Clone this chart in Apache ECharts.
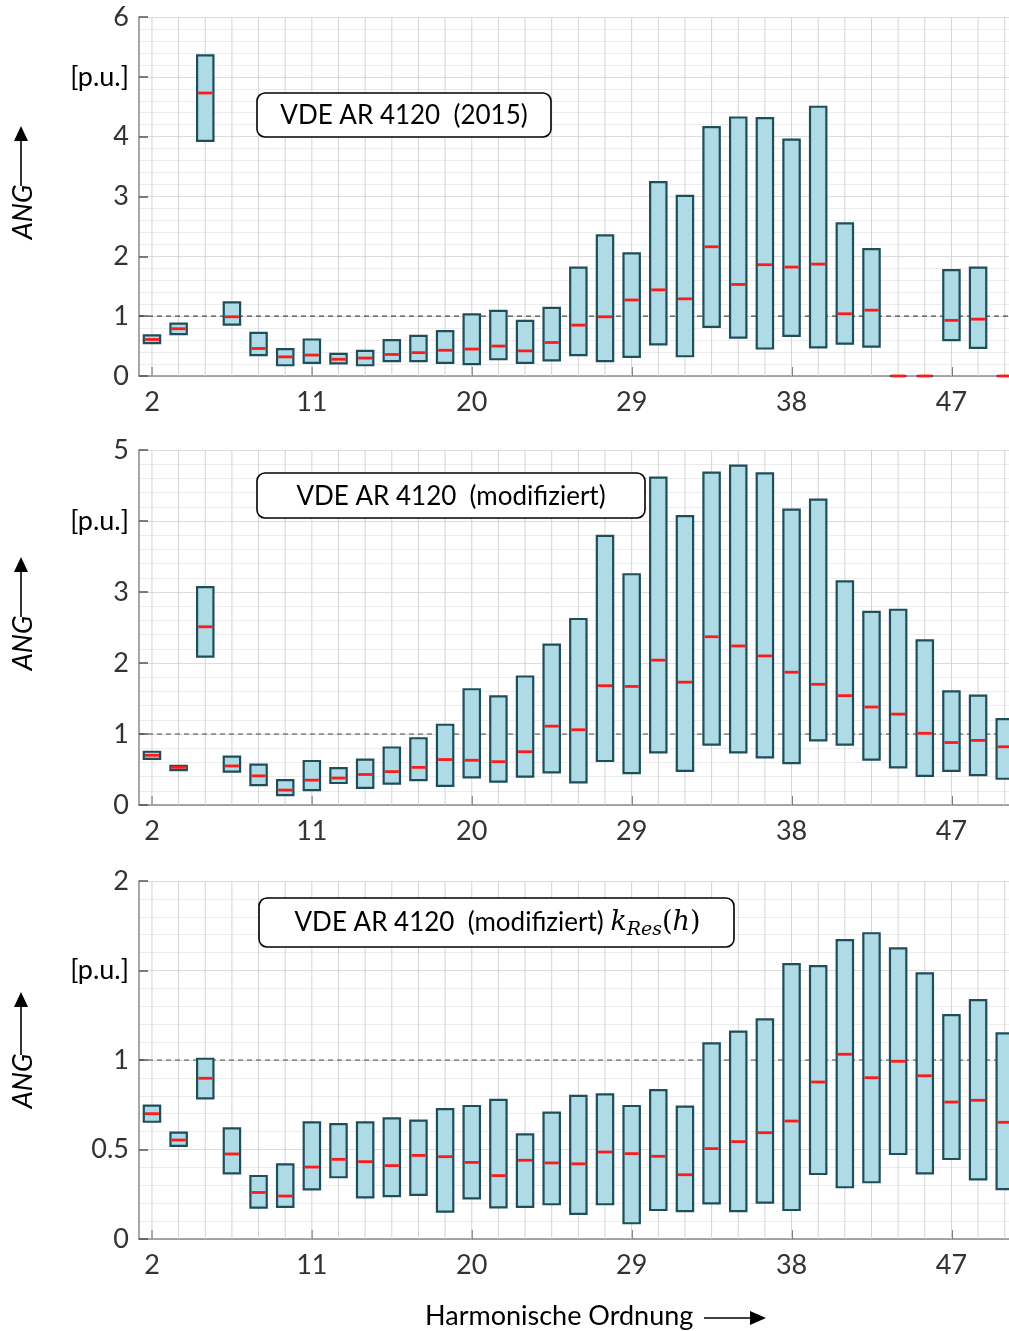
<!DOCTYPE html>
<html><head><meta charset="utf-8">
<script src="https://cdn.jsdelivr.net/npm/echarts@6/dist/echarts.min.js"></script>
<style>html,body{margin:0;padding:0;background:#fff}#c{width:1009px;height:1331px}</style>
</head><body><div id="c"></div>
<script>
// Harmonic order positions (categories along x)
const positions = [2,3.5,5,6.5,8,9.5,11,12.5,14,15.5,17,18.5,20,21.5,23,24.5,26,27.5,29,30.5,32,33.5,35,36.5,38,39.5,41,42.5,44,45.5,47,48.5,50];
const xTickValues = [2,11,20,29,38,47];

// Panel 1: VDE AR 4120 (2015)
const min2015 = [0.55,0.70,3.93,0.86,0.35,0.18,0.22,0.21,0.18,0.25,0.25,0.22,0.20,0.28,0.22,0.26,0.35,0.25,0.32,0.53,0.33,0.82,0.64,0.46,0.67,0.48,0.54,0.49,0,0,0.60,0.47,0];
const max2015 = [0.68,0.875,5.36,1.23,0.72,0.45,0.61,0.37,0.42,0.60,0.67,0.75,1.03,1.09,0.92,1.14,1.81,2.35,2.05,3.24,3.01,4.16,4.32,4.31,3.95,4.50,2.55,2.12,0,0,1.77,1.81,0];
const med2015 = [0.61,0.79,4.73,0.99,0.46,0.32,0.35,0.28,0.30,0.36,0.39,0.43,0.45,0.50,0.42,0.56,0.85,0.99,1.27,1.44,1.29,2.16,1.53,1.86,1.82,1.87,1.04,1.10,0,0,0.93,0.95,0];

// Panel 2: VDE AR 4120 (modifiziert)
const minMod = [0.65,0.49,2.09,0.47,0.28,0.14,0.21,0.31,0.24,0.30,0.35,0.27,0.39,0.33,0.40,0.46,0.32,0.62,0.45,0.74,0.48,0.85,0.74,0.67,0.59,0.91,0.85,0.64,0.53,0.41,0.48,0.42,0.37];
const maxMod = [0.75,0.55,3.07,0.68,0.57,0.35,0.62,0.52,0.64,0.81,0.94,1.13,1.63,1.53,1.81,2.26,2.62,3.79,3.25,4.61,4.07,4.68,4.78,4.67,4.16,4.30,3.15,2.72,2.75,2.32,1.60,1.54,1.21];
const medMod = [0.70,0.53,2.51,0.55,0.41,0.21,0.35,0.38,0.43,0.47,0.53,0.64,0.63,0.61,0.75,1.11,1.06,1.68,1.67,2.04,1.73,2.37,2.24,2.10,1.87,1.70,1.54,1.38,1.28,1.01,0.88,0.91,0.82];

// Panel 3: VDE AR 4120 (modifiziert) kRes(h)
const minRes = [0.655,0.52,0.786,0.367,0.175,0.18,0.277,0.345,0.233,0.24,0.246,0.153,0.227,0.177,0.18,0.194,0.14,0.194,0.088,0.162,0.156,0.199,0.156,0.203,0.162,0.363,0.289,0.317,0.475,0.367,0.447,0.333,0.279];
const maxRes = [0.745,0.594,1.007,0.618,0.352,0.417,0.652,0.642,0.652,0.674,0.661,0.726,0.743,0.777,0.585,0.706,0.80,0.808,0.743,0.832,0.739,1.093,1.158,1.227,1.536,1.525,1.670,1.708,1.624,1.484,1.251,1.335,1.149];
const medRes = [0.70,0.553,0.898,0.475,0.26,0.24,0.402,0.445,0.432,0.41,0.467,0.46,0.428,0.354,0.44,0.425,0.42,0.486,0.477,0.462,0.359,0.505,0.544,0.594,0.659,0.877,1.032,0.901,0.993,0.912,0.765,0.775,0.652];

// Axis settings per panel
const yMaxes = [6, 5, 2];
const yIntervals = [1, 1, 0.5];
const puValues = [5, 4, 1.5];
const refLevel = [1, 1, 1];
const xMin = 1.27, xMax = 50.24;
const panelTitles = ['VDE AR 4120  (2015)', 'VDE AR 4120  (modifiziert)', null];

const FONT = 'Lato';
const gridTops = [17, 450, 881];
const gridHeights = [359, 355, 358];
const boxWidth = 0.92;

const mins = [min2015, minMod, minRes];
const maxs = [max2015, maxMod, maxRes];
const meds = [med2015, medMod, medRes];

const grids = [], xAxes = [], yAxes = [], series = [];
for (let i = 0; i < 3; i++) {
  grids.push({left: 139, right: 0, top: gridTops[i], height: gridHeights[i]});
  xAxes.push({
    type: 'value', gridIndex: i, min: xMin, max: xMax,
    axisLine: {show: true, lineStyle: {color: '#8a8a8a', width: 1.5}},
    axisTick: {show: true, inside: true, length: 9, customValues: xTickValues, lineStyle: {color: '#555', width: 1.5}},
    axisLabel: {customValues: xTickValues, fontSize: 27, fontFamily: FONT, color: '#333', margin: 13},
    splitLine: {show: false}
  });
  const pu = puValues[i];
  yAxes.push({
    type: 'value', gridIndex: i, min: 0, max: yMaxes[i], interval: yIntervals[i],
    axisLine: {show: true, lineStyle: {color: '#8a8a8a', width: 1.5}},
    axisTick: {show: true, inside: true, length: 9, lineStyle: {color: '#555', width: 1.5}},
    axisLabel: {
      fontSize: 27, fontFamily: FONT, margin: 10,
      color: function (v) { return Math.abs(v - pu) < 1e-9 ? '#000' : '#333'; },
      formatter: function (v) { return Math.abs(v - pu) < 1e-9 ? '[p.u.]' : String(v); }
    },
    splitLine: {show: true, lineStyle: {color: '#dcdcdc', width: 1}},
    minorTick: {show: false, splitNumber: 5},
    minorSplitLine: {show: true, lineStyle: {color: '#ececec', width: 1}}
  });
  const yTop = yMaxes[i];
  // vertical grid lines at every harmonic position
  series.push({
    type: 'custom', xAxisIndex: i, yAxisIndex: i, z: 1, silent: true,
    data: positions.map(x => [x]),
    renderItem: function (params, api) {
      const x = api.value(0);
      const a = api.coord([x, 0]);
      const b = api.coord([x, yTop]);
      return {type: 'line', shape: {x1: a[0], y1: a[1], x2: b[0], y2: b[1]}, style: {stroke: '#d4d4d4', lineWidth: 1}};
    }
  });
  // reference level dashed line
  series.push({
    type: 'line', xAxisIndex: i, yAxisIndex: i, z: 2, silent: true, symbol: 'none',
    data: [[xMin, refLevel[i]], [xMax, refLevel[i]]],
    lineStyle: {color: '#4a4a4a', width: 1.2, type: [5, 4]}
  });
  // boxes
  const mn = mins[i], mx = maxs[i], md = meds[i];
  series.push({
    type: 'custom', xAxisIndex: i, yAxisIndex: i, z: 3, clip: false,
    data: positions.map((x, k) => [x, mn[k], mx[k], md[k]]),
    encode: {x: 0, y: [1, 2, 3]},
    renderItem: function (params, api) {
      const x = api.value(0), lo = api.value(1), hi = api.value(2), me = api.value(3);
      const pLo = api.coord([x, lo]), pHi = api.coord([x, hi]), pMd = api.coord([x, me]);
      const w = api.size([boxWidth, 0])[0];
      return {type: 'group', children: [
        {type: 'rect', shape: {x: pLo[0] - w / 2, y: pHi[1], width: w, height: pLo[1] - pHi[1]},
         style: {fill: '#aedbe6', stroke: '#1e4e5a', lineWidth: 2.2}},
        {type: 'line', shape: {x1: pMd[0] - w / 2 + 1.2, y1: pMd[1], x2: pMd[0] + w / 2 - 1.2, y2: pMd[1]},
         style: {stroke: '#ff1a1a', lineWidth: 2.8}}
      ]};
    }
  });
}

// Decorations
const graphics = [];
const angCenters = [212, 643, 1081];
const angTips = [126, 557, 992];
for (let i = 0; i < 3; i++) {
  const c = angCenters[i], t = angTips[i];
  graphics.push({type: 'text', x: 23, y: c, rotation: Math.PI / 2,
    style: {text: 'ANG', font: 'italic 27px ' + FONT, fill: '#000', align: 'center', verticalAlign: 'middle'}});
  graphics.push({type: 'line', shape: {x1: 21, y1: c - 26, x2: 21, y2: t + 12}, style: {stroke: '#000', lineWidth: 1.6}});
  graphics.push({type: 'polygon', shape: {points: [[21, t], [14, t + 15], [28, t + 15]]}, style: {fill: '#000'}});
}
const boxes = [
  {x: 257, y: 93, w: 294, h: 44},
  {x: 257, y: 473, w: 388, h: 45},
  {x: 259, y: 898, w: 475, h: 49}
];
for (let i = 0; i < 3; i++) {
  const b = boxes[i];
  graphics.push({type: 'rect', shape: {x: b.x, y: b.y, width: b.w, height: b.h, r: 8},
    style: {fill: '#fff', stroke: '#000', lineWidth: 1.6}, z: 10});
  if (panelTitles[i]) {
    graphics.push({type: 'text', x: b.x + b.w / 2, y: b.y + b.h / 2 + 1, z: 11,
      style: {text: panelTitles[i], font: '26px ' + FONT, fill: '#000', align: 'center', verticalAlign: 'middle'}});
  } else {
    graphics.push({type: 'text', x: b.x + b.w / 2 + 1, y: b.y + b.h / 2, z: 11,
      style: {
        text: '{a|VDE AR 4120  (modifiziert) }{k|k}{s|Res}{p|(}{k|h}{p|)}',
        align: 'center', verticalAlign: 'middle',
        rich: {
          a: {font: '26px ' + FONT, fill: '#000', lineHeight: 34},
          k: {font: 'italic 27px "DejaVu Serif"', fill: '#000', lineHeight: 34},
          s: {font: 'italic 19px "DejaVu Serif"', fill: '#000', lineHeight: 20, verticalAlign: 'bottom'},
          p: {font: '27px "DejaVu Serif"', fill: '#000', lineHeight: 34}
        }
      }});
  }
}
graphics.push({type: 'text', x: 425, y: 1316, style: {text: 'Harmonische Ordnung', font: '27px ' + FONT, fill: '#000', align: 'left', verticalAlign: 'middle'}});
graphics.push({type: 'line', shape: {x1: 704, y1: 1318, x2: 752, y2: 1318}, style: {stroke: '#000', lineWidth: 1.6}});
graphics.push({type: 'polygon', shape: {points: [[766, 1318], [750, 1311], [750, 1325]]}, style: {fill: '#000'}});

const chart = echarts.init(document.getElementById('c'), null, {renderer: 'canvas'});
chart.setOption({
  animation: false,
  backgroundColor: '#fff',
  grid: grids, xAxis: xAxes, yAxis: yAxes, series: series,
  graphic: graphics
});
</script></body></html>
